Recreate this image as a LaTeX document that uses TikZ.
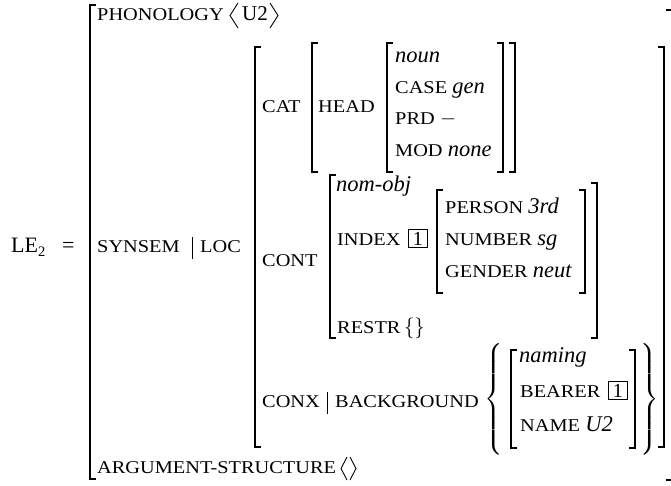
\documentclass[tikz,border=0pt]{standalone}
\usepackage{exscale}
\usepackage{fontspec}
\setmainfont{Liberation Serif}
% wide capitals used for the feature names
\newfontfamily\featfont[FakeStretch=1.13]{Liberation Serif}
\newcommand\A[1]{{\featfont\fontsize{18}{20}\selectfont #1}}
\newcommand\V[1]{{\fontsize{22.5}{24}\selectfont\itshape #1}}
% square brackets: x, top, bottom
\newcommand\lbrk[3]{\draw[brk] (#1+6,#2) -- (#1,#2) -- (#1,#3) -- (#1+6,#3);}
\newcommand\rbrk[3]{\draw[brk] (#1-6,#2) -- (#1,#2) -- (#1,#3) -- (#1-6,#3);}
\begin{document}
\begin{tikzpicture}[x=1pt,y=-1pt,
  every node/.style={inner sep=0pt, anchor=base west, font=\fontsize{21}{24}\selectfont},
  brk/.style={line width=1.6pt},
  bar/.style={line width=1pt},
  angle/.style={line width=0.9pt, line join=miter},
  tag/.style={draw, line width=1.4pt, inner sep=0pt, minimum width=18.5pt, minimum height=18pt,
              font=\fontsize{20}{21}\selectfont},
  brace/.style={anchor=center, inner sep=0pt}]
\useasboundingbox (0,0) rectangle (671,485);

% outermost matrix
\node (le) at (11,252) {\fontsize{22}{24}\selectfont LE\raisebox{-4pt}{\fontsize{14.5}{15}\selectfont 2}};
\node (eq) at (62,252) {\fontsize{22}{24}\selectfont =};
\lbrk{90}{5}{479}
\draw[brk] (666,10) -- (672,10) -- (672,480) -- (666,480);

\node (phon) at (97,20) {\A{PHONOLOGY}};
\draw[angle] (238,3) -- (230,15.5) -- (238,28);
\node (u2) at (242,20) {U2};
\draw[angle] (270,3) -- (278,15.5) -- (270,28);

\node (synsem) at (97,252) {\A{SYNSEM}};
\draw[bar] (192,237) -- (192,259);
\node (loc) at (200,252) {\A{LOC}};

\node (argst) at (97,473) {\A{ARGUMENT-STRUCTURE}};
\draw[angle] (347,457) -- (341,468.5) -- (347,480);
\draw[angle] (350,457) -- (356,468.5) -- (350,480);

% value of LOC
\lbrk{255}{47}{447}
\rbrk{664}{47}{447}

% CAT
\node (cat) at (262,112) {\A{CAT}};
\lbrk{312}{43}{172}
\rbrk{515}{43}{172}
\node (head) at (318,112) {\A{HEAD}};
\lbrk{387}{43}{172}
\rbrk{503}{43}{172}
\node (noun) at (395,62) {\V{noun}};
\node (case) at (395,93) {\A{CASE} \V{gen}};
\node (prd) at (395,124) {\A{PRD} $-$};
\node (mod) at (395,156) {\A{MOD} \V{none}};

% CONT
\node (cont) at (262,266) {\A{CONT}};
\lbrk{330}{175}{338}
\rbrk{597}{183}{338}
\node (nomobj) at (336,191) {\V{nom-obj}};
\node (index) at (337,245) {\A{INDEX}};
\node[tag, anchor=base west] (tag1) at (408,245) {1};
\lbrk{437}{190}{293}
\rbrk{585}{190}{293}
\node (person) at (445,213) {\A{PERSON} \V{3rd}};
\node (number) at (445,245) {\A{NUMBER} \V{sg}};
\node (gender) at (445,277) {\A{GENDER} \V{neut}};
\node (restr) at (337,333) {\A{RESTR}\,$\{\}$};

% CONX
\node (conx) at (262,407) {\A{CONX}};
\draw[bar] (327,392) -- (327,414);
\node (bg) at (335,407) {\A{BACKGROUND}};
\node[brace] (lbrace) at (494,399) {$\left\{\vrule height 49pt depth 49pt width 0pt\right.$};
\lbrk{511}{350}{448}
\rbrk{635}{350}{448}
\node (naming) at (519,362) {\V{naming}};
\node (bearer) at (520,397) {\A{BEARER}};
\node[tag, anchor=base west] (tag2) at (608,397) {1};
\node (name) at (520,431) {\A{NAME} \V{U2}};
\node[brace] (rbrace) at (649,399) {$\left.\vrule height 49pt depth 49pt width 0pt\right\}$};
\end{tikzpicture}
\end{document}
